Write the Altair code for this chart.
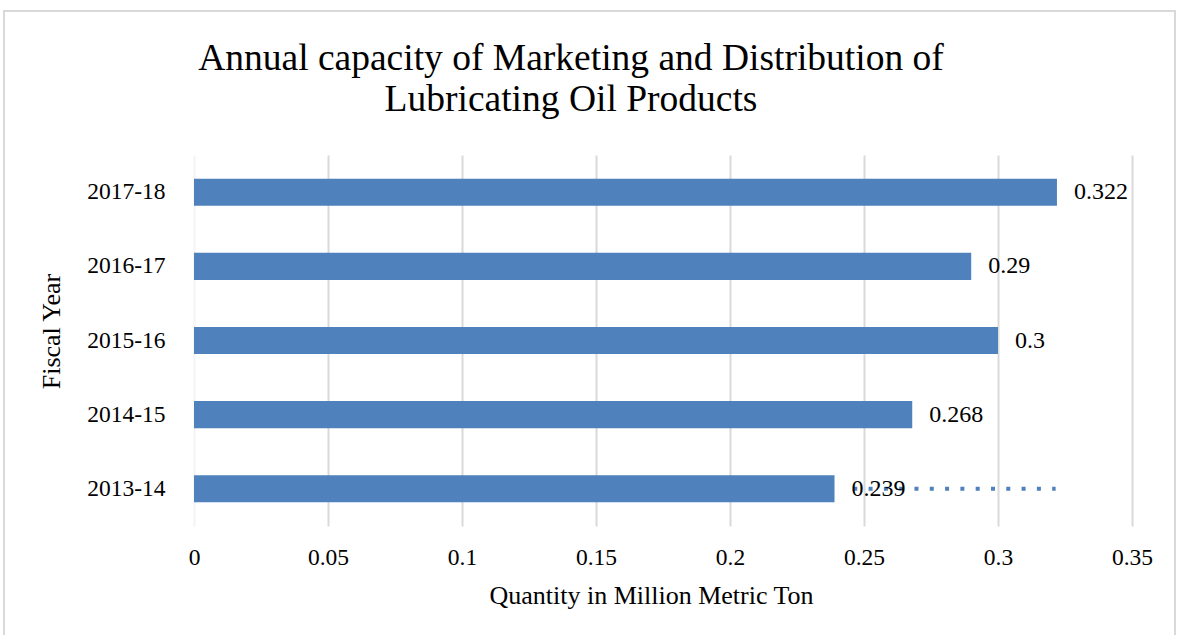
import altair as alt
import pandas as pd

years = ["2017-18", "2016-17", "2015-16", "2014-15", "2013-14"]
values = [0.322, 0.29, 0.3, 0.268, 0.239]
labels = ["0.322", "0.29", "0.3", "0.268", "0.239"]

dotted_year = ["2013-14"]
dotted_start = [0.246]
dotted_end = [0.3215]

FONT = "Liberation Serif"
BLUE = "#4f81bd"
GRID = "#d9d9d9"

df = pd.DataFrame({"year": years, "value": values, "label": labels})
dots = pd.DataFrame({"year": dotted_year, "x0": dotted_start, "x1": dotted_end})
frame_df = pd.DataFrame({"k": [0]})

W, H = 938, 371

y_enc = alt.Y(
    "year:N",
    sort=years,
    scale=alt.Scale(paddingInner=0.635, paddingOuter=0.32),
    axis=alt.Axis(
        title="Fiscal Year",
        labelFont=FONT, labelFontSize=23.5, labelColor="#000000",
        labelPadding=29, ticks=False, domain=False, grid=False,
        titleFont=FONT, titleFontSize=26, titleFontWeight="normal", titleColor="#000000",
        titleAngle=270, titleX=-135, titleY=176, titleAlign="center", titleBaseline="alphabetic",
    ),
)

x_scale = alt.Scale(domain=[0, 0.35], nice=False)

bars = alt.Chart(df).mark_bar(color=BLUE).encode(
    x=alt.X(
        "value:Q",
        scale=x_scale,
        axis=alt.Axis(
            title="Quantity in Million Metric Ton",
            values=[0, 0.05, 0.1, 0.15, 0.2, 0.25, 0.3, 0.35],
            format=".2~f",
            labelFont=FONT, labelFontSize=23.5, labelColor="#000000",
            labelPadding=19, labelFlush=False, ticks=False, domain=False,
            grid=True,
            gridColor={"condition": {"test": "datum.value == 0", "value": "#f4f4f4"}, "value": GRID},
            gridWidth=2,
            titleFont=FONT, titleFontSize=26, titleFontWeight="normal", titleColor="#000000",
            titleX=457, titleY=77, titleAlign="center", titleBaseline="alphabetic",
        ),
    ),
    y=y_enc,
)

dotted = alt.Chart(dots).mark_rule(color=BLUE, strokeWidth=4, strokeDash=[4, 11.3]).encode(
    x=alt.X("x0:Q", scale=x_scale),
    x2="x1:Q",
    y=alt.Y("year:N", sort=years),
)

text = alt.Chart(df).mark_text(
    align="left", baseline="middle", dx=17, font=FONT, fontSize=24, color="#000000"
).encode(
    x=alt.X("value:Q", scale=x_scale),
    y=alt.Y("year:N", sort=years),
    text="label:N",
)

frame = alt.Chart(frame_df).mark_rect(
    fill=None, stroke=GRID, strokeWidth=2
).encode(
    x=alt.value(-190), x2=alt.value(W + 43),
    y=alt.value(-144), y2=alt.value(H + 140),
)

chart = alt.layer(frame, bars, dotted, text).properties(
    width=W,
    height=H,
    background="white",
    padding={"left": 194, "top": 155, "right": 47, "bottom": 109},
    autosize=alt.AutoSizeParams(type="none"),
    title=alt.TitleParams(
        text=["Annual capacity of Marketing and Distribution of", "Lubricating Oil Products"],
        font=FONT, fontSize=37.5, fontWeight="normal", color="#000000",
        anchor="middle", dx=-92, offset=-108, lineHeight=41,
    ),
).configure_view(stroke="transparent", strokeWidth=0)

chart.save("out.html", embed_options={"renderer": "svg", "actions": False})
